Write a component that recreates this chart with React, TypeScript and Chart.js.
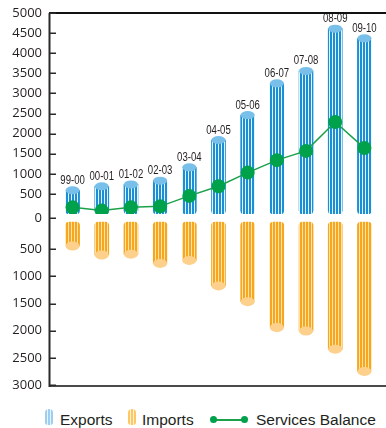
import React, { useEffect, useRef } from 'react';
import { Chart, registerables } from 'chart.js';

Chart.register(...registerables);

// Fiscal years
const years = ['99-00', '00-01', '01-02', '02-03', '03-04', '04-05', '05-06', '06-07', '07-08', '08-09', '09-10'];
// Services exports (upper panel)
const exportsValues = [590, 690, 735, 830, 1160, 1840, 2460, 3250, 3560, 4610, 4370];
// Services imports (lower panel, drawn downwards)
const importsValues = [440, 605, 590, 760, 705, 1175, 1465, 1940, 2005, 2340, 2750];
// Services balance (exports minus imports)
const balanceValues = [165, 85, 165, 190, 450, 690, 1030, 1340, 1570, 2290, 1640];
// Axis ticks
const exportTicks = [0, 500, 1000, 1500, 2000, 2500, 3000, 3500, 4000, 4500, 5000];
const importTicks = [500, 1000, 1500, 2000, 2500, 3000];

const BLUE = '#1b8fd3';
const BLUE_STRIPE = '#e4f2fb';
const BLUE_CAP = '#78bfea';
const ORANGE = '#f6a61f';
const ORANGE_STRIPE = '#fde3a8';
const ORANGE_CAP = '#fdd08b';
const GREEN = '#00a14b';
const INK = '#231f20';
const AXIS_GAP = 9;

function stripes(base: string, line: string): CanvasPattern | string {
  const c = document.createElement('canvas');
  c.width = 3;
  c.height = 4;
  const g = c.getContext('2d');
  if (!g) return base;
  g.fillStyle = base;
  g.fillRect(0, 0, 3, 4);
  g.fillStyle = line;
  g.fillRect(2, 0, 1, 4);
  return g.createPattern(c, 'repeat') || base;
}

// Pixel positions of all axis ticks; the shared zero sits between the two panels
function tickPixels(chart: any): { py: number; text: string }[] {
  const yTop = chart.scales.y;
  const yBottom = chart.scales.y2;
  const zeroPx = (yTop.getPixelForValue(0) + yBottom.getPixelForValue(0)) / 2;
  const out: { py: number; text: string }[] = [];
  exportTicks.forEach((v) => out.push({ py: v === 0 ? zeroPx : yTop.getPixelForValue(v), text: String(v) }));
  importTicks.forEach((v) => out.push({ py: yBottom.getPixelForValue(v), text: String(v) }));
  return out;
}

// Elliptical caps on the cylinders plus the year label above each export bar
const cylinderPlugin = {
  id: 'cylinderCaps',
  afterDatasetDraw(chart: any, args: any) {
    const ds = chart.data.datasets[args.index];
    if (ds.type === 'line') return;
    const isExport = ds.yAxisID === 'y';
    const ctx = chart.ctx;
    args.meta.data.forEach((bar: any, i: number) => {
      const { x, y } = bar.getProps(['x', 'y'], true);
      const ry = isExport ? 4 : 4.5;
      ctx.save();
      ctx.fillStyle = isExport ? BLUE_CAP : ORANGE_CAP;
      ctx.beginPath();
      ctx.ellipse(x, y, 7, ry, 0, 0, Math.PI * 2);
      ctx.fill();
      if (isExport) {
        ctx.translate(x, y - ry - 2.5);
        ctx.scale(0.8, 1);
        ctx.fillStyle = INK;
        ctx.font = '12px "Liberation Sans", Arial, sans-serif';
        ctx.textAlign = 'center';
        ctx.textBaseline = 'alphabetic';
        ctx.fillText(years[i], 0, 0);
      }
      ctx.restore();
    });
  },
};

// Axis line, top and bottom rules, inward tick marks and tick labels
const axisPlugin = {
  id: 'panelAxis',
  afterDraw(chart: any) {
    const ctx: CanvasRenderingContext2D = chart.ctx;
    const area = chart.chartArea;
    const ax = Math.round(area.left - AXIS_GAP);
    const right = chart.width;
    ctx.save();
    ctx.fillStyle = '#111111';
    ctx.fillRect(ax, Math.round(area.top) - 1, right - ax, 2);
    ctx.fillStyle = '#4a4a4a';
    ctx.fillRect(ax, Math.round(area.bottom), right - ax, 2);
    ctx.fillStyle = '#2a2a2a';
    ctx.fillRect(ax - 0.5, Math.round(area.top), 2, Math.round(area.bottom - area.top) + 2);
    const marks = tickPixels(chart);
    marks.forEach((m) => {
      ctx.fillRect(ax, Math.round(m.py) - 0.5, 7, 1.5);
    });
    ctx.font = '13px "Open Sans", "Liberation Sans", sans-serif';
    ctx.textAlign = 'right';
    ctx.textBaseline = 'middle';
    ctx.fillStyle = INK;
    marks.forEach((m) => {
      ctx.fillText(m.text, area.left - 16, m.py);
    });
    ctx.restore();
  },
};

export default function App() {
  const canvasRef = useRef<HTMLCanvasElement | null>(null);

  useEffect(() => {
    const canvas = canvasRef.current;
    if (!canvas) return;
    const chart = new Chart(canvas, {
      type: 'bar',
      data: {
        labels: years,
        datasets: [
          {
            type: 'line',
            label: 'Services Balance',
            data: balanceValues,
            yAxisID: 'y',
            borderColor: '#1aa14a',
            borderWidth: 1.5,
            pointRadius: 7,
            pointBackgroundColor: GREEN,
            pointBorderWidth: 0,
            order: 0,
          } as any,
          {
            type: 'bar',
            label: 'Exports',
            data: exportsValues,
            yAxisID: 'y',
            backgroundColor: stripes(BLUE, BLUE_STRIPE),
            barThickness: 14,
            grouped: false,
            borderWidth: 0,
            borderSkipped: false,
            borderRadius: { topLeft: 0, topRight: 0, bottomLeft: 4, bottomRight: 4 },
            order: 1,
          } as any,
          {
            type: 'bar',
            label: 'Imports',
            data: importsValues,
            yAxisID: 'y2',
            backgroundColor: stripes(ORANGE, ORANGE_STRIPE),
            barThickness: 14,
            grouped: false,
            borderWidth: 0,
            borderSkipped: false,
            borderRadius: { topLeft: 4, topRight: 4, bottomLeft: 0, bottomRight: 0 },
            order: 1,
          } as any,
        ],
      },
      options: {
        responsive: false,
        animation: false,
        devicePixelRatio: 1,
        events: [],
        layout: { padding: { top: 13, bottom: 7, left: 0, right: 1 } },
        plugins: {
          legend: { display: false },
          tooltip: { enabled: false },
        },
        scales: {
          x: {
            type: 'category',
            display: false,
            offset: true,
          },
          y: {
            position: 'left',
            stack: 'panels',
            stackWeight: 201,
            weight: 1,
            min: 0,
            max: 5000,
            grid: { display: false, drawTicks: false },
            border: { display: false },
            ticks: { display: false },
            afterFit: (scale: any) => {
              scale.width = 58;
            },
          },
          y2: {
            position: 'left',
            stack: 'panels',
            stackWeight: 171,
            weight: 0,
            min: -150,
            max: 3000,
            reverse: true,
            grid: { display: false, drawTicks: false },
            border: { display: false },
            ticks: { display: false },
            afterFit: (scale: any) => {
              scale.width = 58;
            },
          },
        } as any,
      },
      plugins: [cylinderPlugin, axisPlugin],
    });
    return () => chart.destroy();
  }, []);

  const legendText: React.CSSProperties = {
    position: 'absolute',
    top: 411,
    fontFamily: '"Liberation Sans", Arial, sans-serif',
    fontSize: 15.5,
    lineHeight: '18px',
    color: INK,
    whiteSpace: 'nowrap',
  };

  return (
    <div style={{ position: 'fixed', left: 0, top: 0, width: 386, height: 428, background: '#fff', overflow: 'hidden' }}>
      <canvas ref={canvasRef} width={386} height={392} style={{ position: 'absolute', left: 0, top: 0, width: 386, height: 392 }} />
      <div
        style={{
          position: 'absolute',
          left: 45,
          top: 409,
          width: 8,
          height: 16,
          borderRadius: '4px 4px 3px 3px',
          background: 'repeating-linear-gradient(90deg, #9ccfef 0px, #9ccfef 2px, #e8f4fc 2px, #e8f4fc 3px)',
        }}
      />
      <span style={{ ...legendText, left: 60 }}>Exports</span>
      <div
        style={{
          position: 'absolute',
          left: 128,
          top: 409,
          width: 8,
          height: 16,
          borderRadius: '4px 4px 3px 3px',
          background: 'repeating-linear-gradient(90deg, #fcc866 0px, #fcc866 2px, #fff0cf 2px, #fff0cf 3px)',
        }}
      />
      <span style={{ ...legendText, left: 142 }}>Imports</span>
      <div style={{ position: 'absolute', left: 212, top: 419, width: 32, height: 1.5, background: '#1aa14a' }} />
      <div style={{ position: 'absolute', left: 209.5, top: 416, width: 7, height: 7, borderRadius: '50%', background: GREEN }} />
      <div style={{ position: 'absolute', left: 240.5, top: 416, width: 7, height: 7, borderRadius: '50%', background: GREEN }} />
      <span style={{ ...legendText, left: 256 }}>Services Balance</span>
    </div>
  );
}
